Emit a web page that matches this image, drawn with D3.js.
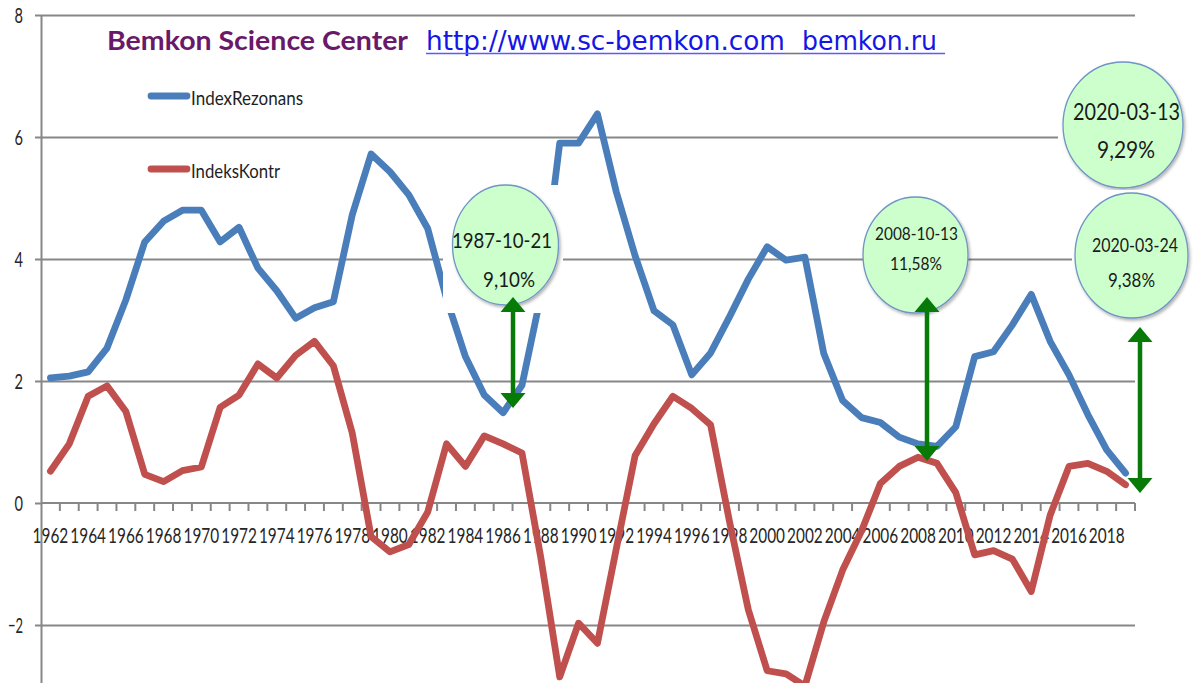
<!DOCTYPE html>
<html>
<head>
<meta charset="utf-8">
<script src="https://cdn.jsdelivr.net/npm/d3@7"></script>
<style>
  body { margin: 0; background: #fff; }
  svg { display: block; }
</style>
</head>
<body>
<div id="chart"></div>
<script>
// categories (years) and the two series
const years = [1962, 1963, 1964, 1965, 1966, 1967, 1968, 1969, 1970, 1971,
  1972, 1973, 1974, 1975, 1976, 1977, 1978, 1979, 1980, 1981,
  1982, 1983, 1984, 1985, 1986, 1987, 1988, 1989, 1990, 1991,
  1992, 1993, 1994, 1995, 1996, 1997, 1998, 1999, 2000, 2001,
  2002, 2003, 2004, 2005, 2006, 2007, 2008, 2009, 2010, 2011,
  2012, 2013, 2014, 2015, 2016, 2017, 2018, 2019];

const indexRezonans = [2.05, 2.08, 2.15, 2.54, 3.33, 4.28, 4.62, 4.8, 4.8, 4.28,
  4.52, 3.85, 3.48, 3.03, 3.2, 3.3, 4.72, 5.72, 5.43, 5.05,
  4.5, 3.35, 2.4, 1.77, 1.48, 1.93, 3.4, 5.9, 5.9, 6.38,
  5.1, 4.05, 3.15, 2.92, 2.1, 2.46, 3.05, 3.67, 4.2, 3.98,
  4.03, 2.45, 1.68, 1.4, 1.32, 1.08, 0.97, 0.93, 1.25, 2.4,
  2.48, 2.92, 3.42, 2.65, 2.1, 1.45, 0.87, 0.49];

const indeksKontr = [0.52, 0.97, 1.75, 1.92, 1.5, 0.47, 0.35, 0.53, 0.59, 1.57,
  1.77, 2.28, 2.05, 2.42, 2.65, 2.25, 1.15, -0.55, -0.8, -0.68,
  -0.15, 0.97, 0.6, 1.1, 0.97, 0.82, -0.9, -2.85, -1.97, -2.3,
  -0.75, 0.78, 1.3, 1.75, 1.55, 1.28, -0.3, -1.75, -2.75, -2.8,
  -3.0, -1.95, -1.1, -0.46, 0.32, 0.6, 0.75, 0.65, 0.17, -0.85,
  -0.78, -0.92, -1.45, -0.2, 0.6, 0.65, 0.52, 0.3];

const yTicks = [-2, 0, 2, 4, 6, 8];
const xTickYears = years.filter(d => d % 2 === 0);

const seriesNames = ["IndexRezonans", "IndeksKontr"];
const noteDates = ["1987-10-21", "2008-10-13", "2020-03-13", "2020-03-24"];
const notePercents = ["9,10%", "11,58%", "9,29%", "9,38%"];

const titleText = "Bemkon Science Center";
const linkTexts = ["http://www.sc-bemkon.com", "bemkon.ru"];

// layout
const WIDTH = 1199;
const HEIGHT = 683;
const LEFT = 41;
const RIGHT = 1135;
const BLUE = "#4a7ebb";
const RED = "#c0504d";
const GRID = "#878787";
const GREEN = "#077a07";
const LABEL_FONT = "Lato, 'Open Sans', sans-serif";

// callouts: white box behind, ellipse, two text lines, arrow
const calloutLayout = [
  { box: [443, 185, 120, 128], cx: 505.5, cy: 245, rx: 53, ry: 60,
    t1: [502, 248, 100, 21], t2: [509, 287, 52, 21], arrow: [513, 297, 408] },
  { box: null, cx: 915.5, cy: 255, rx: 52.5, ry: 58,
    t1: [916.5, 240, 83, 18], t2: [916, 270, 52, 18], arrow: [927, 297, 461] },
  { box: [1058, 60, 135, 132], cx: 1123, cy: 125, rx: 60, ry: 63,
    t1: [1126.5, 120, 107, 23.5], t2: [1126, 158, 58, 23.5], arrow: null },
  { box: [1072, 190, 127, 130], cx: 1131.5, cy: 255.5, rx: 56.5, ry: 62.5,
    t1: [1135, 252, 86, 19.5], t2: [1131.5, 287, 47, 19.5], arrow: [1140, 327, 493] }
];

const svg = d3.select("#chart")
  .append("svg")
  .attr("width", WIDTH)
  .attr("height", HEIGHT)
  .style("background", "#fff");

const defs = svg.append("defs");
const shadow = defs.append("filter")
  .attr("id", "shadow")
  .attr("x", "-20%").attr("y", "-20%")
  .attr("width", "150%").attr("height", "150%");
shadow.append("feDropShadow")
  .attr("dx", 1.5).attr("dy", 2)
  .attr("stdDeviation", 1.5)
  .attr("flood-color", "#000")
  .attr("flood-opacity", 0.3);

// scales
const x = d3.scaleBand()
  .domain(years)
  .range([LEFT, RIGHT])
  .padding(0);

const y = d3.scaleLinear()
  .domain([-3, 8])
  .range([686, 15]);

const xc = d => x(d) + x.bandwidth() / 2;

// gridlines
svg.append("g")
  .attr("transform", `translate(${LEFT},0)`)
  .call(d3.axisLeft(y)
    .tickValues(yTicks.filter(d => d !== 0))
    .tickSize(-(RIGHT - LEFT))
    .tickFormat(""))
  .call(g => g.select(".domain").remove())
  .selectAll("line")
  .attr("stroke", GRID)
  .attr("stroke-width", 1.8);

// y axis
const yAxisG = svg.append("g")
  .attr("transform", `translate(${LEFT},0)`)
  .call(d3.axisLeft(y)
    .tickValues(yTicks)
    .tickSize(6)
    .tickSizeOuter(0)
    .tickPadding(12)
    .tickFormat(d3.format("d")));
yAxisG.select(".domain").attr("stroke", GRID).attr("stroke-width", 2);
yAxisG.selectAll("line").attr("stroke", GRID).attr("stroke-width", 2);
yAxisG.selectAll("text")
  .attr("font-family", LABEL_FONT)
  .attr("font-size", 21)
  .attr("fill", "#262626")
  .attr("dy", "0.36em")
  .attr("textLength", d => String(d).length * 8.5 - (d < 0 ? 2 : 0))
  .attr("lengthAdjust", "spacingAndGlyphs");

// x axis: labels every second year (narrowed, as in the source), ticks between categories
const xAxisG = svg.append("g")
  .attr("transform", `translate(0,${y(0)})`)
  .call(d3.axisBottom(x)
    .tickValues(xTickYears)
    .tickSize(0)
    .tickPadding(24));
xAxisG.select(".domain").remove();
xAxisG.selectAll("text")
  .attr("font-family", LABEL_FONT)
  .attr("font-size", 22)
  .attr("fill", "#262626")
  .attr("transform", "scale(0.7,1)");

svg.append("line")
  .attr("x1", LEFT).attr("x2", RIGHT)
  .attr("y1", y(0)).attr("y2", y(0))
  .attr("stroke", GRID)
  .attr("stroke-width", 2);

svg.append("g")
  .selectAll("line")
  .data(years.slice(1).map(d => x(d)).concat([RIGHT]))
  .enter()
  .append("line")
  .attr("x1", d => d).attr("x2", d => d)
  .attr("y1", y(0)).attr("y2", y(0) + 8)
  .attr("stroke", GRID)
  .attr("stroke-width", 2);

// the two lines
const line = d3.line()
  .x((d, i) => xc(years[i]))
  .y(d => y(d));

[[indexRezonans, BLUE], [indeksKontr, RED]].forEach(([vals, color]) => {
  svg.append("path")
    .datum(vals)
    .attr("d", line)
    .attr("fill", "none")
    .attr("stroke", color)
    .attr("stroke-width", 6.8)
    .attr("stroke-linejoin", "round")
    .attr("stroke-linecap", "round");
});

// callouts
calloutLayout.forEach((c, i) => {
  const g = svg.append("g");
  if (c.box) {
    g.append("rect")
      .attr("x", c.box[0]).attr("y", c.box[1])
      .attr("width", c.box[2]).attr("height", c.box[3])
      .attr("fill", "#fff");
  }
  g.append("ellipse")
    .attr("cx", c.cx).attr("cy", c.cy)
    .attr("rx", c.rx).attr("ry", c.ry)
    .attr("fill", "#ccffcc")
    .attr("stroke", "#6f95c4")
    .attr("stroke-width", 1.3)
    .attr("filter", "url(#shadow)");
  [[noteDates[i], c.t1], [notePercents[i], c.t2]].forEach(([txt, t]) => {
    g.append("text")
      .attr("x", t[0]).attr("y", t[1])
      .attr("text-anchor", "middle")
      .attr("font-family", LABEL_FONT)
      .attr("font-size", t[3])
      .attr("fill", "#1a1a1a")
      .attr("textLength", t[2])
      .attr("lengthAdjust", "spacingAndGlyphs")
      .text(txt);
  });
});

// green double arrows
calloutLayout.filter(c => c.arrow).forEach(c => {
  const [ax, top, bottom] = c.arrow;
  const hw = 12.5, hl = 15;
  svg.append("line")
    .attr("x1", ax).attr("x2", ax)
    .attr("y1", top + hl - 1).attr("y2", bottom - hl + 1)
    .attr("stroke", GREEN)
    .attr("stroke-width", 4.5);
  svg.append("path")
    .attr("d", `M${ax},${top} L${ax + hw},${top + hl} L${ax - hw},${top + hl} Z` +
      `M${ax},${bottom} L${ax + hw},${bottom - hl} L${ax - hw},${bottom - hl} Z`)
    .attr("fill", GREEN);
});

// legend
const legend = svg.append("g").attr("id", "legend");
[[BLUE, 96, 105], [RED, 169, 178]].forEach(([color, ly, ty], i) => {
  legend.append("line")
    .attr("x1", 151).attr("x2", 187)
    .attr("y1", ly).attr("y2", ly)
    .attr("stroke", color)
    .attr("stroke-width", 6.8)
    .attr("stroke-linecap", "round");
  legend.append("text")
    .attr("x", 191).attr("y", ty)
    .attr("font-family", LABEL_FONT)
    .attr("font-size", 19.5)
    .attr("fill", "#1f1f1f")
    .attr("textLength", i === 0 ? 112 : 89)
    .attr("lengthAdjust", "spacingAndGlyphs")
    .text(seriesNames[i]);
});

// title and link
svg.append("text")
  .attr("x", 107).attr("y", 50)
  .attr("font-family", LABEL_FONT)
  .attr("font-weight", "bold")
  .attr("font-size", 27)
  .attr("fill", "#6a1868")
  .attr("textLength", 301)
  .attr("lengthAdjust", "spacingAndGlyphs")
  .text(titleText);

svg.append("text")
  .attr("x", 426).attr("y", 50)
  .attr("font-family", "'DejaVu Sans', sans-serif")
  .attr("font-size", 26)
  .attr("fill", "#1515e6")
  .attr("textLength", 359)
  .attr("lengthAdjust", "spacingAndGlyphs")
  .text(linkTexts[0]);

svg.append("text")
  .attr("x", 802).attr("y", 50)
  .attr("font-family", "'DejaVu Sans', sans-serif")
  .attr("font-size", 26)
  .attr("fill", "#1515e6")
  .attr("textLength", 135)
  .attr("lengthAdjust", "spacingAndGlyphs")
  .text(linkTexts[1]);

[[426, 785, "#5a5aff"], [785, 802, "#7a7a7a"], [802, 945, "#5a5aff"]].forEach(([a, b, col]) => {
  svg.append("line")
    .attr("x1", a).attr("x2", b)
    .attr("y1", 53.5).attr("y2", 53.5)
    .attr("stroke", col)
    .attr("stroke-width", 1.6);
});
</script>
</body>
</html>
